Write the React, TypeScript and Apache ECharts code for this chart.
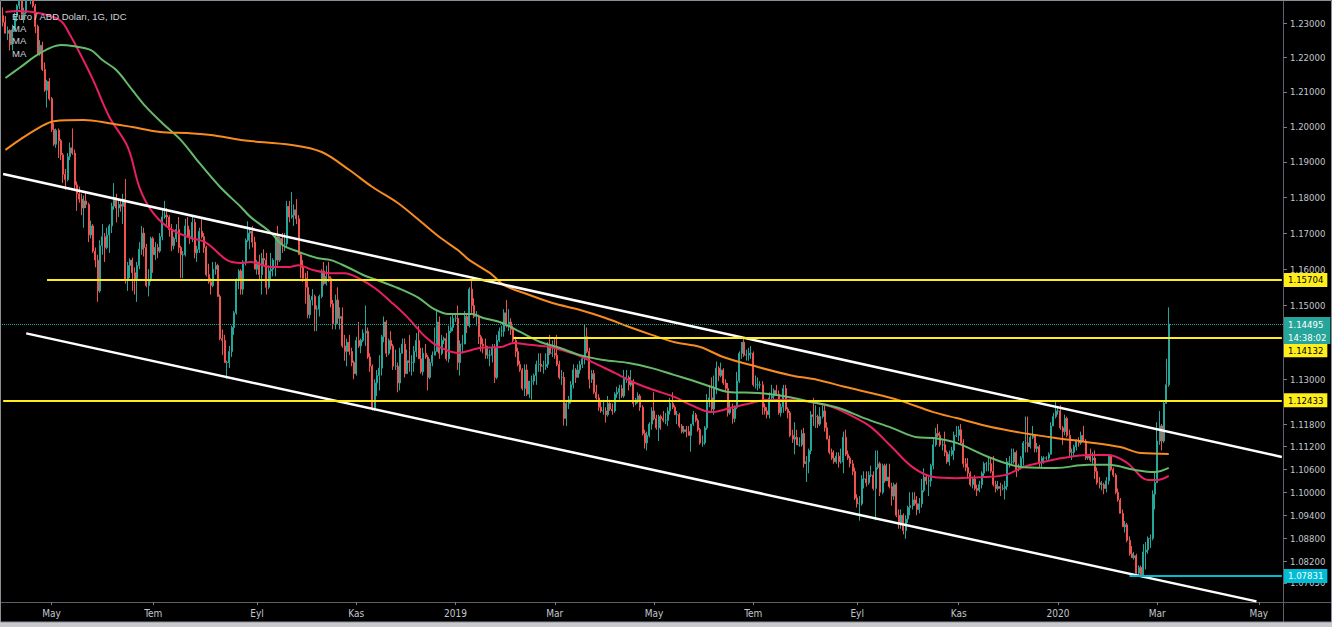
import React, { useEffect, useRef } from "react";
import * as echarts from "echarts";

// Daily bars EUR/USD: [open, high, low, close] stored as pips above 1.0000 (2302 = 1.2302)
const APR18 = [[2322,2346,2290,2302],[2302,2320,2270,2270],[2270,2290,2250,2278],[2278,2282,2220,2237],[2237,2295,2220,2280],[2280,2330,2275,2320],[2320,2355,2305,2350],[2350,2396,2340,2368],[2368,2375,2310,2325],[2325,2345,2300,2330],[2330,2390,2325,2380],[2380,2414,2365,2375],[2375,2396,2355,2375],[2375,2397,2345,2350],[2350,2356,2270,2290],[2290,2295,2210,2210],[2210,2250,2205,2235],[2235,2245,2160,2165],[2165,2185,2100,2105],[2105,2135,2055,2130],[2130,2140,2075,2080]];
const MAY18 = [[2080,2085,1985,1992],[1992,2010,1945,1950],[1950,1995,1940,1990],[1990,1995,1911,1960],[1960,1965,1905,1920],[1920,1925,1840,1865],[1865,1880,1821,1850],[1850,1925,1845,1915],[1915,1955,1905,1940],[1940,1995,1920,1925],[1925,1935,1820,1835],[1835,1845,1762,1810],[1810,1830,1785,1795],[1795,1810,1750,1770],[1770,1805,1715,1790],[1790,1815,1770,1780],[1780,1785,1675,1695],[1695,1735,1685,1720],[1720,1725,1645,1650],[1650,1660,1605,1625],[1625,1640,1510,1540],[1540,1680,1535,1665],[1665,1725,1640,1690]];
const JUN18 = [[1690,1700,1620,1660],[1660,1715,1655,1695],[1695,1725,1645,1720],[1720,1785,1700,1775],[1775,1840,1765,1800],[1800,1810,1730,1770],[1770,1795,1745,1780],[1780,1795,1760,1775],[1775,1810,1725,1795],[1795,1852,1560,1570],[1570,1620,1540,1610],[1610,1630,1575,1625],[1625,1632,1540,1590],[1590,1605,1530,1570],[1570,1620,1510,1610],[1610,1675,1600,1655],[1655,1720,1640,1700],[1700,1715,1635,1660],[1660,1670,1550,1555],[1555,1600,1525,1570],[1570,1690,1565,1685]];
const JUL18 = [[1685,1690,1590,1640],[1640,1675,1625,1660],[1660,1670,1630,1650],[1650,1700,1645,1690],[1690,1765,1680,1745],[1745,1790,1740,1750],[1750,1770,1720,1745],[1745,1750,1690,1710],[1710,1725,1650,1665],[1665,1690,1655,1685],[1685,1725,1675,1710],[1710,1745,1645,1660],[1660,1665,1575,1640],[1640,1650,1575,1640],[1640,1740,1635,1720],[1720,1745,1690,1690],[1690,1710,1670,1685],[1685,1745,1675,1730],[1730,1740,1630,1645],[1645,1665,1620,1655],[1655,1715,1645,1705],[1705,1745,1685,1690]];
const AUG18 = [[1690,1700,1645,1660],[1660,1665,1580,1585],[1585,1615,1560,1565],[1565,1575,1530,1555],[1555,1620,1550,1600],[1600,1620,1585,1610],[1610,1615,1525,1525],[1525,1530,1405,1410],[1410,1435,1365,1405],[1405,1420,1345,1345],[1345,1350,1301,1345],[1345,1390,1330,1375],[1375,1445,1360,1440],[1440,1485,1420,1480],[1480,1575,1475,1570],[1570,1600,1545,1595],[1595,1600,1530,1545],[1545,1625,1530,1620],[1620,1685,1610,1680],[1680,1733,1675,1700],[1700,1715,1655,1705],[1705,1720,1660,1675],[1675,1690,1600,1600]];
const SEP18 = [[1600,1625,1585,1620],[1620,1640,1570,1585],[1585,1645,1530,1630],[1630,1655,1610,1625],[1625,1645,1530,1550],[1550,1610,1545,1595],[1595,1645,1570,1600],[1600,1630,1580,1625],[1625,1700,1580,1690],[1690,1720,1610,1625],[1625,1690,1620,1685],[1685,1700,1645,1670],[1670,1700,1650,1670],[1670,1790,1660,1775],[1775,1790,1730,1745],[1745,1815,1740,1750],[1750,1780,1720,1765],[1765,1795,1725,1740],[1740,1750,1640,1640],[1640,1645,1575,1605]];
const OCT18 = [[1605,1625,1565,1575],[1575,1590,1505,1550],[1550,1595,1465,1475],[1475,1530,1465,1515],[1515,1545,1500,1525],[1525,1530,1430,1490],[1490,1500,1430,1490],[1490,1530,1470,1525],[1525,1600,1520,1595],[1595,1620,1555,1560],[1560,1610,1555,1580],[1580,1620,1565,1575],[1575,1580,1495,1505],[1505,1515,1435,1450],[1450,1530,1435,1515],[1515,1550,1450,1465],[1465,1495,1435,1470],[1470,1495,1385,1390],[1390,1420,1350,1375],[1375,1410,1335,1400],[1400,1420,1365,1375],[1375,1385,1335,1345],[1345,1350,1300,1315]];
const NOV18 = [[1315,1415,1310,1405],[1405,1455,1385,1390],[1390,1410,1370,1405],[1405,1435,1400,1425],[1425,1500,1390,1430],[1430,1440,1355,1360],[1360,1370,1320,1335],[1335,1340,1216,1220],[1220,1300,1215,1290],[1290,1325,1255,1310],[1310,1365,1270,1330],[1330,1420,1310,1415],[1415,1470,1400,1455],[1455,1460,1360,1370],[1370,1410,1365,1405],[1405,1430,1380,1390],[1390,1395,1325,1335],[1335,1380,1325,1335],[1335,1345,1265,1290],[1290,1385,1270,1370],[1370,1410,1370,1395],[1395,1410,1305,1315]];
const DEC18 = [[1315,1380,1315,1350],[1350,1420,1320,1345],[1345,1365,1310,1345],[1345,1390,1320,1375],[1375,1425,1360,1405],[1405,1445,1355,1355],[1355,1385,1315,1320],[1320,1385,1310,1370],[1370,1395,1355,1360],[1360,1365,1270,1305],[1305,1355,1300,1345],[1345,1375,1335,1365],[1365,1440,1365,1375],[1375,1485,1375,1455],[1455,1470,1355,1370],[1370,1420,1365,1405],[1405,1415,1395,1410],[1410,1425,1350,1355],[1355,1445,1345,1430],[1430,1470,1425,1440],[1440,1475,1430,1465]];
const JAN19 = [[1465,1475,1455,1465],[1465,1500,1325,1345],[1345,1405,1310,1395],[1395,1420,1370,1395],[1395,1485,1395,1470],[1470,1475,1425,1445],[1445,1550,1440,1545],[1545,1570,1480,1500],[1500,1520,1465,1470],[1470,1485,1445,1470],[1470,1475,1395,1415],[1415,1420,1375,1395],[1395,1410,1370,1390],[1390,1410,1355,1365],[1365,1390,1355,1365],[1365,1380,1335,1365],[1365,1395,1345,1385],[1385,1395,1290,1305],[1305,1420,1300,1405],[1405,1440,1400,1430],[1430,1445,1415,1430],[1430,1490,1415,1480],[1480,1515,1440,1445]];
const FEB19 = [[1445,1490,1430,1455],[1455,1465,1420,1435],[1435,1445,1400,1405],[1405,1415,1360,1375],[1375,1385,1335,1340],[1340,1350,1320,1325],[1325,1330,1270,1275],[1275,1340,1255,1325],[1325,1340,1255,1260],[1260,1295,1250,1295],[1295,1310,1245,1295],[1295,1315,1285,1310],[1310,1350,1285,1340],[1340,1370,1320,1340],[1340,1370,1320,1335],[1335,1350,1315,1335],[1335,1370,1325,1340],[1340,1400,1330,1390],[1390,1420,1365,1370],[1370,1405,1360,1370]];
const MAR19 = [[1370,1410,1355,1365],[1365,1420,1335,1340],[1340,1350,1300,1305],[1305,1325,1285,1305],[1305,1320,1176,1195],[1195,1245,1175,1235],[1235,1255,1220,1245],[1245,1295,1235,1285],[1285,1340,1275,1325],[1325,1330,1290,1305],[1305,1340,1305,1325],[1325,1350,1315,1340],[1340,1365,1330,1355],[1355,1448,1340,1415],[1415,1440,1370,1375],[1375,1385,1275,1300],[1300,1325,1290,1315],[1315,1325,1260,1265],[1265,1285,1245,1250],[1250,1260,1215,1225],[1225,1240,1210,1215]];
const APR19 = [[1215,1245,1205,1215],[1215,1225,1184,1205],[1205,1255,1200,1235],[1235,1245,1215,1220],[1220,1235,1205,1215],[1215,1265,1210,1260],[1260,1280,1250,1265],[1265,1285,1245,1275],[1275,1285,1250,1255],[1255,1325,1250,1300],[1300,1325,1290,1305],[1305,1310,1270,1285],[1285,1325,1280,1295],[1295,1300,1225,1235],[1235,1250,1230,1245],[1245,1265,1235,1255],[1255,1260,1215,1225],[1225,1230,1150,1155],[1155,1165,1115,1130],[1130,1160,1110,1150],[1150,1185,1145,1180],[1180,1225,1165,1215]];
const MAY19 = [[1215,1265,1190,1195],[1195,1205,1165,1170],[1170,1205,1135,1200],[1200,1205,1165,1195],[1195,1215,1185,1190],[1190,1210,1180,1190],[1190,1225,1175,1215],[1215,1250,1205,1235],[1235,1265,1220,1225],[1225,1230,1205,1205],[1205,1215,1180,1205],[1205,1210,1170,1175],[1175,1180,1155,1160],[1160,1175,1155,1165],[1165,1175,1145,1160],[1160,1175,1150,1150],[1150,1180,1107,1180],[1180,1215,1175,1205],[1205,1210,1185,1190],[1190,1195,1160,1165],[1165,1170,1125,1130],[1130,1150,1120,1130],[1130,1175,1125,1170]];
const JUN19 = [[1170,1260,1165,1240],[1240,1285,1225,1250],[1250,1305,1215,1220],[1220,1310,1205,1275],[1275,1348,1260,1330],[1330,1335,1295,1310],[1310,1345,1305,1325],[1325,1330,1285,1290],[1290,1300,1265,1275],[1275,1290,1200,1210],[1210,1240,1205,1220],[1220,1235,1181,1195],[1195,1230,1185,1225],[1225,1320,1220,1295],[1295,1375,1290,1370],[1370,1400,1355,1400],[1400,1412,1360,1365],[1365,1380,1350,1365],[1365,1385,1350,1370],[1370,1390,1355,1370]];
const JUL19 = [[1370,1375,1280,1285],[1285,1310,1275,1285],[1285,1305,1270,1285],[1285,1295,1275,1285],[1285,1295,1205,1225],[1225,1235,1205,1215],[1215,1225,1195,1205],[1205,1265,1195,1250],[1250,1285,1245,1255],[1255,1275,1245,1270],[1270,1285,1260,1260],[1260,1270,1205,1210],[1210,1235,1200,1225],[1225,1285,1210,1275],[1275,1285,1215,1220],[1220,1225,1195,1210],[1210,1215,1145,1150],[1150,1165,1130,1140],[1140,1185,1100,1145],[1145,1165,1125,1125],[1125,1145,1120,1125],[1125,1165,1120,1155],[1155,1170,1065,1075]];
const AUG19 = [[1075,1095,1027,1080],[1080,1115,1050,1110],[1110,1215,1100,1205],[1205,1250,1175,1200],[1200,1230,1170,1200],[1200,1205,1170,1180],[1180,1225,1175,1200],[1200,1230,1195,1215],[1215,1230,1160,1170],[1170,1185,1140,1140],[1140,1150,1100,1105],[1105,1115,1085,1090],[1090,1110,1075,1080],[1080,1105,1075,1095],[1095,1105,1065,1080],[1080,1115,1075,1080],[1080,1160,1050,1145],[1145,1165,1095,1100],[1100,1110,1085,1090],[1090,1095,1065,1075],[1075,1085,1045,1055],[1055,1065,980,985]];
const SEP19 = [[985,995,960,970],[970,990,926,970],[970,1045,965,1035],[1035,1055,1010,1035],[1035,1055,1015,1025],[1025,1055,1020,1045],[1045,1070,1040,1045],[1045,1055,1005,1010],[1010,1110,927,1065],[1065,1110,1060,1075],[1075,1080,990,1000],[1000,1075,995,1070],[1070,1075,1025,1030],[1030,1075,1030,1040],[1040,1075,1010,1015],[1015,1025,965,990],[990,1025,980,1020],[1020,1025,935,940],[940,955,905,920],[920,955,905,940],[940,945,890,900]];
const OCT19 = [[900,940,879,930],[930,965,920,960],[960,1000,940,965],[965,1000,955,980],[980,1000,965,970],[970,990,940,955],[955,985,945,970],[970,1035,960,1005],[1005,1063,1000,1040],[1040,1045,1020,1030],[1030,1040,990,1030],[1030,1075,1015,1070],[1070,1140,1060,1125],[1125,1170,1120,1155],[1155,1180,1145,1150],[1150,1160,1120,1125],[1125,1140,1110,1125],[1125,1160,1095,1105],[1105,1110,1075,1080],[1080,1110,1070,1100],[1100,1120,1095,1110],[1110,1160,1085,1150],[1150,1175,1145,1150]];
const NOV19 = [[1150,1175,1135,1165],[1165,1180,1125,1130],[1130,1140,1065,1075],[1075,1090,1055,1065],[1065,1090,1035,1050],[1050,1055,1015,1020],[1020,1040,1010,1035],[1035,1045,1005,1010],[1010,1020,990,1005],[1005,1030,1000,1020],[1020,1055,1010,1050],[1050,1080,1040,1075],[1075,1080,1055,1075],[1075,1095,1055,1075],[1075,1090,1050,1055],[1055,1095,1015,1020],[1020,1030,1000,1010],[1010,1030,1005,1015],[1015,1025,990,1010],[1010,1020,1005,1010],[1010,1030,981,1015]];
const DEC19 = [[1015,1090,1005,1080],[1080,1095,1065,1080],[1080,1115,1070,1080],[1080,1115,1075,1105],[1105,1110,1040,1060],[1060,1075,1055,1065],[1065,1095,1060,1090],[1090,1135,1070,1130],[1130,1200,1105,1130],[1130,1200,1105,1120],[1120,1150,1115,1145],[1145,1175,1140,1150],[1150,1150,1105,1115],[1115,1130,1105,1120],[1120,1125,1065,1080],[1080,1095,1065,1090],[1090,1095,1075,1090],[1090,1095,1085,1090],[1090,1105,1085,1100],[1100,1185,1100,1175],[1175,1210,1175,1200],[1200,1240,1195,1215]];
const JAN20 = [[1215,1225,1205,1215],[1215,1230,1165,1170],[1170,1175,1125,1160],[1160,1205,1150,1195],[1195,1200,1145,1150],[1150,1165,1090,1105],[1105,1115,1085,1105],[1105,1125,1095,1120],[1120,1140,1110,1135],[1135,1145,1120,1130],[1130,1160,1125,1150],[1150,1175,1140,1135],[1135,1140,1085,1090],[1090,1100,1085,1095],[1095,1115,1080,1085],[1085,1105,1075,1090],[1090,1110,1035,1055],[1055,1065,1020,1025],[1025,1040,1010,1020],[1020,1030,1005,1020],[1020,1025,995,1010],[1010,1040,1000,1030],[1030,1100,1020,1095]];
const FEB20 = [[1095,1100,1055,1060],[1060,1065,1040,1045],[1045,1050,995,1000],[1000,1010,975,980],[980,985,945,945],[945,955,910,910],[910,925,895,915],[915,920,870,875],[875,885,835,840],[840,860,830,830],[830,845,825,835],[835,840,785,790],[790,810,785,805],[805,810,783,785],[785,865,784,845],[845,870,800,850],[850,885,840,880],[880,890,855,880],[880,1005,875,995],[995,1055,955,1025]];
const MAR20 = [[1025,1185,1025,1135],[1135,1215,1125,1175],[1175,1180,1110,1135],[1135,1240,1130,1235],[1235,1355,1235,1285],[1285,1495,1280,1449.5]];

const MONTH_BLOCKS = [APR18, MAY18, JUN18, JUL18, AUG18, SEP18, OCT18, NOV18, DEC18, JAN19, FEB19, MAR19, APR19, MAY19, JUN19, JUL19, AUG19, SEP19, OCT19, NOV19, DEC19, JAN20, FEB20, MAR20];

// Trading-day axis (weekdays), including empty future space on the right
const START_DATE = "2018-04-02";
const CATEGORY_COUNT = 555;
const MONTHS_TR = ["Oca", "Şub", "Mar", "Nis", "May", "Haz", "Tem", "Ağu", "Eyl", "Eki", "Kas", "Ara"];

// Moving averages: [bar index, price]
const MA50 = [[1,1.2332],[7,1.2335],[17,1.2327],[25,1.2306],[29,1.2265],[33,1.2215],[39,1.2134],[46,1.2028],[54,1.1942],[59,1.1829],[64,1.1765],[71,1.1718],[80,1.1689],[88,1.1673],[97,1.1625],[103,1.1617],[107,1.162],[116,1.1606],[124,1.1606],[128,1.1611],[134,1.1598],[142,1.1589],[148,1.1589],[154,1.1575],[161,1.1548],[168,1.151],[175,1.1469],[183,1.1414],[189,1.1387],[197,1.1371],[203,1.1379],[207,1.1385],[216,1.1387],[221,1.1398],[228,1.1393],[237,1.1387],[242,1.1379],[251,1.136],[256,1.1344],[265,1.1317],[273,1.1292],[282,1.1271],[291,1.1252],[298,1.1231],[307,1.1212],[315,1.1223],[324,1.1236],[330,1.1244],[341,1.1244],[350,1.1239],[359,1.1226],[367,1.1204],[376,1.1172],[385,1.1119],[394,1.1066],[403,1.104],[413,1.1037],[425,1.104],[434,1.1045],[442,1.1066],[451,1.108],[459,1.109],[470,1.1098],[479,1.1098],[487,1.1077],[496,1.1032],[500,1.1032],[505,1.1043]];
const MA100 = [[1,1.214],[7,1.2169],[16,1.2212],[25,1.2236],[30,1.2233],[38,1.2221],[43,1.2192],[49,1.2163],[56,1.2105],[62,1.2056],[69,1.201],[77,1.1962],[85,1.1897],[94,1.1829],[103,1.1773],[107,1.1746],[116,1.1701],[121,1.1667],[128,1.1648],[136,1.1631],[142,1.1625],[149,1.1606],[156,1.1584],[162,1.157],[171,1.1548],[180,1.1521],[186,1.1493],[193,1.1477],[203,1.1477],[208,1.1466],[216,1.1453],[224,1.1428],[233,1.14],[241,1.1385],[250,1.1365],[260,1.1352],[271,1.1344],[281,1.133],[291,1.1311],[298,1.1298],[307,1.1279],[314,1.1266],[327,1.1263],[338,1.1255],[350,1.1239],[362,1.1223],[373,1.1196],[385,1.117],[396,1.1145],[403,1.1143],[413,1.113],[428,1.109],[442,1.1066],[456,1.1064],[470,1.1072],[479,1.1072],[490,1.1059],[499,1.1053],[505,1.1064]];
const MA200 = [[1,1.1934],[7,1.1962],[16,1.1999],[22,1.2016],[35,1.2019],[46,1.201],[56,1.1999],[68,1.1985],[80,1.1982],[91,1.1976],[103,1.1962],[125,1.1948],[138,1.1928],[150,1.1877],[160,1.1829],[171,1.1784],[180,1.1737],[189,1.1689],[197,1.1653],[202,1.1625],[211,1.1589],[217,1.1556],[228,1.1529],[238,1.1507],[250,1.1488],[261,1.1466],[271,1.1442],[281,1.142],[291,1.14],[302,1.1387],[312,1.136],[327,1.1333],[341,1.1311],[353,1.1298],[365,1.1279],[376,1.1263],[388,1.1244],[403,1.1212],[413,1.1196],[428,1.1172],[442,1.1156],[456,1.1143],[470,1.1132],[484,1.1119],[493,1.1103],[505,1.1101]];

// Price scale
const Y_MIN = 1.07164;
const Y_MAX = 1.23617;
const Y_TICKS = [1.23, 1.22, 1.21, 1.2, 1.19, 1.18, 1.17, 1.16, 1.15, 1.13, 1.118, 1.112, 1.106, 1.1, 1.094, 1.088, 1.082, 1.0765];

// Drawings: trend lines [[bar, price], [bar, price]] and horizontal levels
const TREND_LINES = [
  [[0, 1.1866], [554, 1.1093]],
  [[10, 1.1424], [543, 1.0718]],
];
const YELLOW_LEVELS = [
  { price: 1.15704, fromBar: 19 },
  { price: 1.14132, fromBar: 221 },
  { price: 1.12433, fromBar: 0 },
];
const LOW_LEVEL = { price: 1.07831, fromBar: 488 };
const LAST_PRICE = 1.14495;
const COUNTDOWN = "14:38:02";

const TITLE = "Euro / ABD Doları, 1G, IDC";
const LEGEND_ITEMS = ["MA", "MA", "MA"];

function weekdays(start: string, n: number): string[] {
  const out: string[] = [];
  const d = new Date(start + "T00:00:00Z");
  while (out.length < n) {
    const wd = d.getUTCDay();
    if (wd !== 0 && wd !== 6) out.push(d.toISOString().slice(0, 10));
    d.setUTCDate(d.getUTCDate() + 1);
  }
  return out;
}

const UP = "#26a69a";
const DOWN = "#ef5350";
const YELLOW = "#ffee1a";
const CYAN = "#00bcd4";
const AXIS_TEXT = "#c3c6ce";
const NARROW = "'Liberation Sans Narrow', 'DejaVu Sans Condensed', 'Liberation Sans', sans-serif";

export default function App() {
  const ref = useRef<HTMLDivElement>(null);

  useEffect(() => {
    if (!ref.current) return;
    const chart = echarts.init(ref.current, undefined, { renderer: "svg" });
    const ln = Math.log;
    const P = (v: number) => 1 + v / 10000;
    const cats = weekdays(START_DATE, CATEGORY_COUNT);
    const lastCat = cats[cats.length - 1];
    const bars = MONTH_BLOCKS.flat();
    const candles = bars.map(([o, h, l, c]) => [ln(P(o)), ln(P(c)), ln(P(l)), ln(P(h))]);

    const isLabelDay = (idx: number, val: string) => {
      if (idx === 0) return false;
      const m = Number(val.slice(5, 7));
      return cats[idx - 1].slice(5, 7) !== val.slice(5, 7) && m % 2 === 1;
    };

    const tag = (price: number, text: string, bg: string, fg: string, dy = 0, extra: any = {}) => ({
      yAxis: ln(price),
      lineStyle: { color: "rgba(0,0,0,0)", width: 0, opacity: 1 },
      label: {
        show: true,
        position: "end",
        distance: 1,
        formatter: text,
        backgroundColor: bg,
        color: fg,
        opacity: 1,
        fontSize: 9.5,
        fontFamily: NARROW,
        padding: [2, 4, 1, 4],
        lineHeight: 11,
        offset: [0, dy],
        ...extra,
      },
    });

    const hLine = (price: number, from: number, color: string) => [
      { coord: [cats[from], ln(price)], lineStyle: { color, width: 2, type: "solid" } },
      { coord: [lastCat, ln(price)], lineStyle: { color, width: 2, type: "solid" } },
    ];

    const maSeries = (name: string, pts: number[][], color: string) => ({
      type: "line",
      name,
      data: pts.map(([i, p]) => [cats[i], ln(p)]),
      showSymbol: false,
      symbol: "none",
      smooth: 0.35,
      lineStyle: { color, width: 2 },
      z: 3,
      silent: true,
    });

    chart.setOption({
      animation: false,
      backgroundColor: "#000000",
      grid: { left: 2, right: 49, top: 2, bottom: 25, containLabel: false },
      xAxis: {
        type: "category",
        data: cats,
        boundaryGap: true,
        axisLine: { show: false },
        axisTick: {
          show: true,
          interval: isLabelDay,
          alignWithLabel: true,
          length: 3,
          lineStyle: { color: "#787b86" },
        },
        axisLabel: {
          interval: isLabelDay,
          formatter: (val: string) => {
            const m = Number(val.slice(5, 7));
            return m === 1 ? val.slice(0, 4) : MONTHS_TR[m - 1];
          },
          color: AXIS_TEXT,
          fontSize: 10,
          fontFamily: NARROW,
          margin: 6,
        },
        splitLine: { show: false },
      },
      yAxis: {
        type: "value",
        position: "right",
        min: ln(Y_MIN),
        max: ln(Y_MAX),
        scale: true,
        splitLine: { show: false },
        axisLine: { show: false },
        axisTick: {
          show: true,
          customValues: Y_TICKS.map((t) => ln(t)),
          length: 4,
          lineStyle: { color: "#787b86" },
        },
        axisLabel: {
          customValues: Y_TICKS.map((t) => ln(t)),
          formatter: (v: number) => Math.exp(v).toFixed(5),
          color: AXIS_TEXT,
          fontSize: 9.5,
          fontFamily: NARROW,
          margin: 7,
        },
      },
      graphic: [
        { type: "rect", silent: true, shape: { x: 0, y: 622, width: 1332, height: 5 }, style: { fill: "#c8cacf" } },
        { type: "line", silent: true, shape: { x1: 0, y1: 602.5, x2: 1332, y2: 602.5 }, style: { stroke: "#5d606b", lineWidth: 1 } },
        { type: "line", silent: true, shape: { x1: 1283.5, y1: 0, x2: 1283.5, y2: 622 }, style: { stroke: "#5d606b", lineWidth: 1 } },
        { type: "rect", silent: true, shape: { x: 0.5, y: 0.5, width: 1331, height: 621.5 }, style: { fill: "none", stroke: "#8b8e97", lineWidth: 1 } },
        {
          type: "text", silent: true, x: 12, y: 16, z: 10,
          style: { text: TITLE, fill: "#d1d4dc", font: "9.5px 'Liberation Sans', sans-serif", verticalAlign: "middle" },
        },
        ...LEGEND_ITEMS.map((t, k) => ({
          type: "text", silent: true, x: 12, y: 28 + k * 12.5, z: 10,
          style: { text: t, fill: "#d1d4dc", font: "9.5px 'Liberation Sans', sans-serif", verticalAlign: "middle" },
        })),
      ],
      series: [
        {
          type: "candlestick",
          name: "EURUSD",
          data: candles,
          barWidth: 1.5,
          itemStyle: { color: UP, color0: DOWN, borderColor: UP, borderColor0: DOWN, borderWidth: 1 },
          z: 2,
          silent: true,
        },
        maSeries("MA 50", MA50, "#e91e63"),
        maSeries("MA 100", MA100, "#66bb6a"),
        maSeries("MA 200", MA200, "#f68b1f"),
        {
          type: "line",
          name: "drawings",
          data: [[cats[0], ln(1.2)]],
          symbol: "none",
          lineStyle: { opacity: 0 },
          z: 5,
          silent: true,
          markLine: {
            silent: true,
            precision: 10,
            symbol: ["none", "none"],
            animation: false,
            label: { show: false },
            data: [
              { yAxis: ln(LAST_PRICE), lineStyle: { color: UP, width: 1, type: "dotted" } },
              ...TREND_LINES.map(([a, b]) => [
                { coord: [cats[a[0]], ln(a[1])], lineStyle: { color: "#ffffff", width: 2.5, type: "solid" } },
                { coord: [cats[b[0]], ln(b[1])], lineStyle: { color: "#ffffff", width: 2.5, type: "solid" } },
              ]),
              ...YELLOW_LEVELS.map((l) => hLine(l.price, l.fromBar, YELLOW)),
              hLine(LOW_LEVEL.price, LOW_LEVEL.fromBar, CYAN),
              tag(YELLOW_LEVELS[0].price, YELLOW_LEVELS[0].price.toFixed(5), YELLOW, "#000"),
              tag(YELLOW_LEVELS[2].price, YELLOW_LEVELS[2].price.toFixed(5), YELLOW, "#000"),
              tag(YELLOW_LEVELS[1].price, YELLOW_LEVELS[1].price.toFixed(5), YELLOW, "#000", 13),
              tag(LAST_PRICE, LAST_PRICE.toFixed(5) + "\n" + COUNTDOWN, UP, "#ffffff", 6.5, { lineHeight: 13, padding: [1, 4, 0, 4] }),
              tag(LOW_LEVEL.price, LOW_LEVEL.price.toFixed(5), CYAN, "#ffffff"),
            ],
          },
        },
      ],
    });

    return () => chart.dispose();
  }, []);

  return (
    <div style={{ position: "fixed", left: 0, top: 0, width: 1332, height: 627, background: "#000" }}>
      <div ref={ref} style={{ width: 1332, height: 627 }} />
    </div>
  );
}
